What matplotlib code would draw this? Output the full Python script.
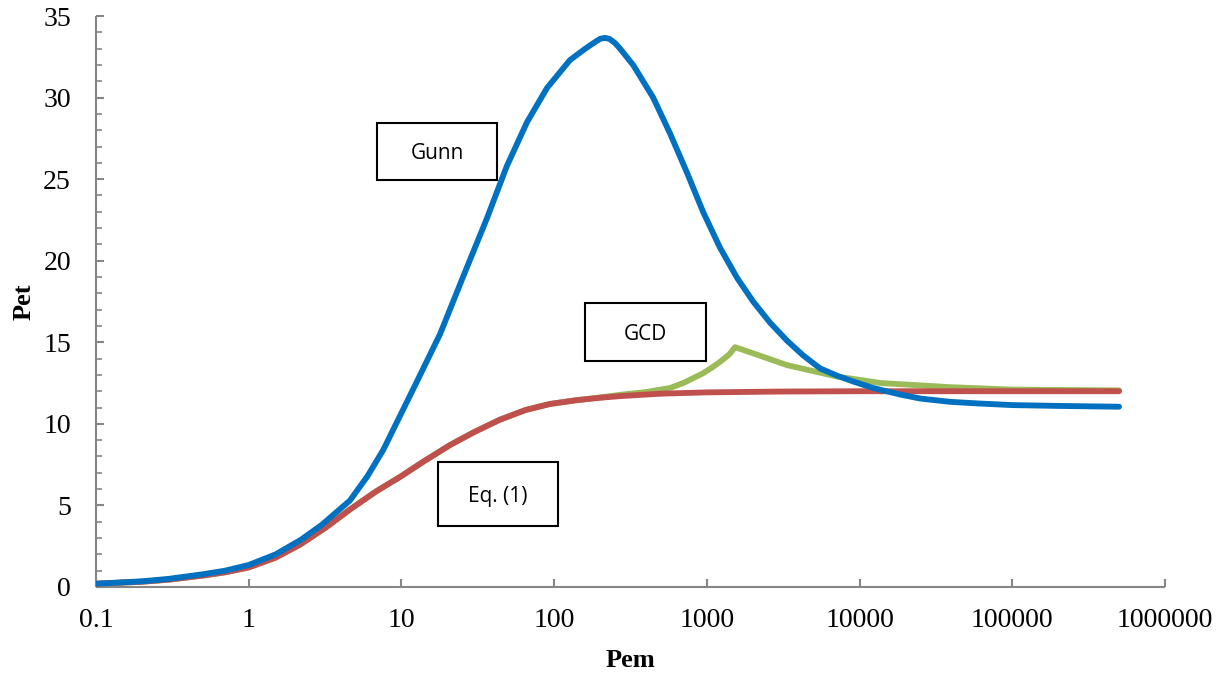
import matplotlib
matplotlib.use("Agg")
import matplotlib.pyplot as plt
from matplotlib.ticker import FixedLocator, FuncFormatter, MultipleLocator
from matplotlib.patches import Rectangle

# Gunn correlation
gunn_pem = [0.1, 0.2, 0.3, 0.5, 0.7, 1, 1.5, 2.2, 3, 4.6, 6, 7.6, 11.9, 17.9, 25.3,
            36.3, 49, 66.5, 90, 127, 160, 185, 200, 215, 230, 250, 270, 329, 445, 574,
            741, 944, 1219, 1577, 2009, 2594, 3350, 4266, 5510, 7130, 9060, 12250,
            18400, 25000, 39200, 60000, 100000, 200000, 500000]
gunn_pet = [0.2, 0.35, 0.5, 0.78, 1.0, 1.35, 2.0, 2.9, 3.8, 5.3, 6.8, 8.4, 12.1, 15.5,
            19.0, 22.6, 25.8, 28.5, 30.6, 32.3, 33.0, 33.4, 33.6, 33.66, 33.6, 33.35,
            33.0, 32.0, 30.0, 27.8, 25.4, 23.0, 20.8, 18.95, 17.5, 16.2, 15.1, 14.2,
            13.4, 12.95, 12.6, 12.2, 11.8, 11.55, 11.35, 11.25, 11.15, 11.1, 11.05]

# Eq. (1)
eq1_pem = [0.1, 0.2, 0.3, 0.5, 0.7, 1, 1.5, 2.17, 3.2, 4.6, 6.8, 9.8, 14, 20.8, 30, 44,
           65, 94, 140, 200, 270, 500, 1000, 3000, 10000, 100000, 500000]
eq1_pet = [0.2, 0.32, 0.45, 0.7, 0.9, 1.2, 1.8, 2.6, 3.65, 4.75, 5.85, 6.75, 7.7, 8.7,
           9.5, 10.25, 10.85, 11.22, 11.45, 11.6, 11.7, 11.85, 11.93, 11.98, 12.0, 12.0,
           12.0]

# GCD
gcd_pem = [0.1, 0.2, 0.3, 0.5, 0.7, 1, 1.5, 2.17, 3.2, 4.6, 6.8, 9.8, 14, 20.8, 30, 44,
           65, 94, 140, 200, 270, 400, 574, 700, 944, 1100, 1219, 1400, 1530, 2000, 3350,
           7130, 13800, 39200, 100000, 500000]
gcd_pet = [0.2, 0.32, 0.45, 0.7, 0.9, 1.2, 1.8, 2.6, 3.65, 4.75, 5.85, 6.75, 7.7, 8.7,
           9.5, 10.25, 10.85, 11.22, 11.45, 11.62, 11.78, 11.95, 12.2, 12.5, 13.1, 13.5,
           13.8, 14.25, 14.7, 14.33, 13.6, 12.9, 12.5, 12.25, 12.1, 12.05]

x_ticks = [0.1, 1, 10, 100, 1000, 10000, 100000, 1000000]
x_tick_labels = ["0.1", "1", "10", "100", "1000", "10000", "100000", "1000000"]

W, H = 1226, 675
fig = plt.figure(figsize=(W / 100, H / 100), dpi=100)
ax = fig.add_axes([96 / W, 1 - 587 / H, (1165 - 96) / W, (587 - 16) / H])

lw = 4.2
ax.plot(gcd_pem, gcd_pet, color="#9BBB59", lw=lw, solid_joinstyle="round",
        solid_capstyle="round", zorder=3)
ax.plot(eq1_pem, eq1_pet, color="#C0504D", lw=lw, solid_joinstyle="round",
        solid_capstyle="round", zorder=4)
ax.plot(gunn_pem, gunn_pet, color="#0070C0", lw=lw, solid_joinstyle="round",
        solid_capstyle="round", zorder=5)

ax.set_xscale("log")
ax.set_xlim(0.1, 1000000)
ax.set_ylim(0, 35)

ax.xaxis.set_major_locator(FixedLocator(x_ticks))
ax.xaxis.set_minor_locator(FixedLocator([]))
ax.xaxis.set_major_formatter(FuncFormatter(lambda v, p: x_tick_labels[x_ticks.index(v)]
                                           if v in x_ticks else ""))
ax.yaxis.set_major_locator(MultipleLocator(5))
ax.yaxis.set_minor_locator(MultipleLocator(1))

for s in ["top", "right"]:
    ax.spines[s].set_visible(False)
for s in ["left", "bottom"]:
    ax.spines[s].set_color("#868686")
    ax.spines[s].set_linewidth(1.5)
    ax.spines[s].set_capstyle("butt")

serif = "Liberation Serif"
ax.tick_params(axis="both", which="major", direction="in", length=6, width=1.5,
               color="#868686", labelsize=20, labelcolor="black")
ax.tick_params(axis="y", which="minor", direction="in", length=4, width=1.2,
               color="#868686")
ax.tick_params(axis="y", which="major", pad=18)
ax.tick_params(axis="x", which="major", pad=15)
for lab in ax.get_xticklabels() + ax.get_yticklabels():
    lab.set_family(serif)

ax.set_xlabel("Pem", family=serif, fontweight="bold", fontsize=19)
ax.set_ylabel("Pet", family=serif, fontweight="bold", fontsize=19)
ax.xaxis.set_label_coords(0.5, -0.108)
ax.yaxis.set_label_coords(-0.057, 0.5)

# Annotation boxes (pixel positions on the figure)
boxes = [("Gunn", 377, 123, 497, 180), ("GCD", 585, 303, 706, 361),
         ("Eq. (1)", 438, 462, 558, 526)]
for text, x0, y0, x1, y1 in boxes:
    fig.patches.append(Rectangle((x0 / W, 1 - y1 / H), (x1 - x0) / W, (y1 - y0) / H,
                                 transform=fig.transFigure, facecolor="white",
                                 edgecolor="black", lw=1.5, zorder=10))
    fig.text((x0 + x1) / 2 / W, 1 - (y0 + y1) / 2 / H - 0.003, text, ha="center",
             va="center", fontsize=15, family="Open Sans", zorder=11)

fig.savefig("out.png", dpi=100)
